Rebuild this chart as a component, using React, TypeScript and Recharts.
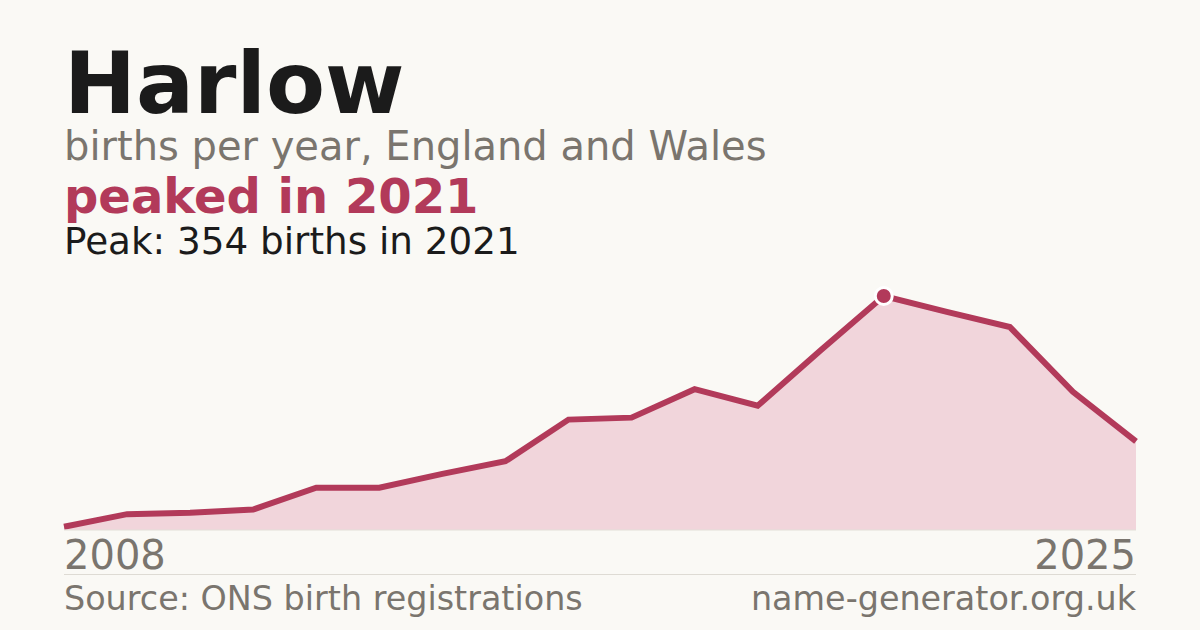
import React from "react";
import { AreaChart, Area, XAxis, YAxis, ReferenceDot } from "recharts";

const years = [2008, 2009, 2010, 2011, 2012, 2013, 2014, 2015, 2016, 2017, 2018, 2019, 2020, 2021, 2022, 2023, 2024, 2025];
const births = [5, 24, 26, 31, 64, 64, 85, 104, 167, 170, 213, 188, 272, 354, 330, 307, 209, 134];
const tickYears = [2008, 2025];
const peakYear = 2021;
const peakValue = 354;

const data = years.map((year, i) => ({ year, births: births[i] }));

const BG = "#faf9f5";
const ACCENT = "#b23a5a";
const FILL = "#f1d5db";
const GREY = "#7a756e";
const DARK = "#1b1b1b";
const FONT = "'DejaVu Sans', sans-serif";

const YearTick = (props: any) => {
  const { x, y, payload } = props;
  const first = payload.value === tickYears[0];
  return (
    <text x={x} y={y + 39} textAnchor={first ? "start" : "end"} fill={GREY} fontSize={40} fontFamily={FONT}>
      {payload.value}
    </text>
  );
};

export default function App() {
  return (
    <div style={{ position: "absolute", left: 0, top: 0, width: 1200, height: 630, background: BG, overflow: "hidden" }}>
      <div style={{ position: "absolute", left: 0, top: 0 }}>
        <AreaChart width={1200} height={630} data={data} margin={{ top: 296, right: 64, bottom: 0, left: 64 }}>
          <XAxis
            dataKey="year"
            type="number"
            domain={[2008, 2025]}
            ticks={tickYears}
            tick={<YearTick />}
            tickLine={false}
            tickSize={0}
            tickMargin={0}
            axisLine={{ stroke: "#e2dfd8", strokeWidth: 1 }}
            height={100}
            interval={0}
          />
          <YAxis hide domain={[0, peakValue]} />
          <Area
            type="linear"
            dataKey="births"
            stroke={ACCENT}
            strokeWidth={6}
            fill={FILL}
            fillOpacity={1}
            isAnimationActive={false}
            dot={false}
            activeDot={false}
          />
          <ReferenceDot x={peakYear} y={peakValue} r={8.5} fill={ACCENT} stroke="#ffffff" strokeWidth={3} ifOverflow="visible" />
        </AreaChart>
      </div>
      <svg width={1200} height={630} style={{ position: "absolute", left: 0, top: 0, pointerEvents: "none" }}>
        <text x={64} y={113} fontFamily={FONT} fontWeight="bold" fontSize={86} fill={DARK}>Harlow</text>
        <text x={64} y={160} fontFamily={FONT} fontSize={40} fill={GREY}>births per year, England and Wales</text>
        <text x={64} y={213} fontFamily={FONT} fontWeight="bold" fontSize={48} fill={ACCENT}>peaked in 2021</text>
        <text x={64} y={254} fontFamily={FONT} fontSize={37.3} fill={DARK}>Peak: 354 births in 2021</text>
        <line x1={64} x2={1136} y1={574.5} y2={574.5} stroke="#dedbd4" strokeWidth={1} />
        <text x={64} y={610} fontFamily={FONT} fontSize={33.4} fill={GREY}>Source: ONS birth registrations</text>
        <text x={1136} y={610} textAnchor="end" fontFamily={FONT} fontSize={33.4} fill={GREY}>name-generator.org.uk</text>
      </svg>
    </div>
  );
}
